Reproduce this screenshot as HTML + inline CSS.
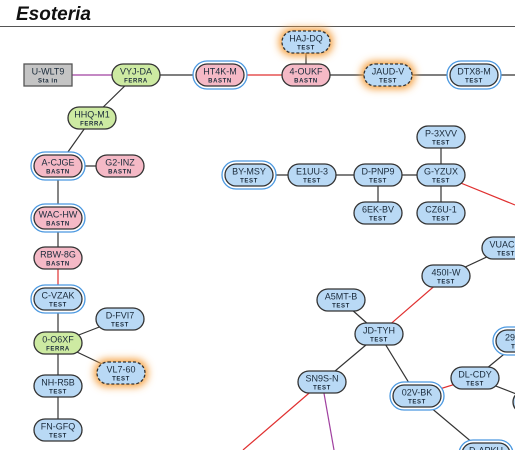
<!DOCTYPE html>
<html><head><meta charset="utf-8"><style>
html,body{margin:0;padding:0;background:#fff;width:515px;height:450px;overflow:hidden}
svg{display:block}
text{font-family:"Liberation Sans",Arial,sans-serif;fill:#1a2a3a}
</style></head><body>
<svg id="chart" width="515" height="450" viewBox="0 0 515 450">
<defs>
<filter id="glow" x="-50%" y="-80%" width="200%" height="260%"><feGaussianBlur stdDeviation="4"/></filter>
</defs>
<text x="16" y="20" font-size="19" font-weight="bold" font-style="italic" style="fill:#111">Esoteria</text>
<line x1="0" y1="26.5" x2="515" y2="26.5" stroke="#555" stroke-width="1"/>
<g id="edges"></g><g id="nodes"></g>
</svg>
<script>
const nodeNames=["U-WLT9","VYJ-DA","HT4K-M","4-OUKF","HAJ-DQ","JAUD-V","DTX8-M","HHQ-M1","A-CJGE","G2-INZ","WAC-HW","RBW-8G","C-VZAK","D-FVI7","0-O6XF","VL7-60","NH-R5B","FN-GFQ","BY-MSY","E1UU-3","D-PNP9","G-YZUX","P-3XVV","6EK-BV","CZ6U-1","VUAC-7","450I-W","A5MT-B","JD-TYH","SN9S-N","02V-BK","DL-CDY","29YX-1","EDGE-R","D-APKU"];
const nodeTypes=["Sta in","FERRA","BASTN","BASTN","TEST","TEST","TEST","FERRA","BASTN","BASTN","BASTN","BASTN","TEST","TEST","FERRA","TEST","TEST","TEST","TEST","TEST","TEST","TEST","TEST","TEST","TEST","TEST","TEST","TEST","TEST","TEST","TEST","TEST","TEST","TEST","TEST"];
const nodeX=[48,136,220,306,306,388,474,92,58,120,58,58,58,120,58,121,58,58,249,312,378,441,441,378,441,506,446,341,379,322,417,475,520,537,486];
const nodeY=[75,75,75,75,42,75,75,118,166,166,218,258,299,319,343,373,386,430,175,175,175,175,137,213,213,248,276,300,334,382,396,378,341,402,454];
const nodeRing=[0,0,1,0,0,0,1,0,1,0,1,0,1,0,0,0,0,0,1,0,0,0,0,0,0,0,0,0,0,0,1,0,1,0,1];
const nodeGlow=[0,0,0,0,1,1,0,0,0,0,0,0,0,0,0,1,0,0,0,0,0,0,0,0,0,0,0,0,0,0,0,0,0,0,0];
const edgeFrom=[0,1,2,3,3,5,6,1,7,8,8,10,11,12,14,14,14,16,18,19,20,21,21,20,21,26,26,28,28,28,30,29,29,31,31,30];
const edgeTo=[1,2,3,4,5,6,-1,7,8,9,10,11,12,14,13,15,16,17,19,20,21,22,24,23,-2,25,28,27,29,30,31,-3,-4,32,33,34];
const edgeColor=["#a040a0","#333","#e03030","#333","#333","#333","#333","#333","#333","#333","#333","#333","#e03030","#333","#333","#333","#333","#333","#333","#333","#333","#333","#333","#333","#e03030","#333","#e03030","#333","#333","#333","#e03030","#e03030","#a040a0","#333","#333","#333"];
const extX={"-1":515,"-2":515,"-3":243,"-4":334};
const extY={"-1":75,"-2":205,"-3":450,"-4":450};
const fills={"TEST":"#b9d9f5","BASTN":"#f5b9c6","FERRA":"#cdeaa2","Sta in":"#c4c4c4"};
const NS="http://www.w3.org/2000/svg";
const eg=document.getElementById('edges'),ng=document.getElementById('nodes');
function px(i){return i>=0?nodeX[i]:extX[String(i)];}
function py(i){return i>=0?nodeY[i]:extY[String(i)];}
edgeFrom.forEach((f,k)=>{const t=edgeTo[k];const l=document.createElementNS(NS,'line');


l.setAttribute('x1',px(f));l.setAttribute('y1',py(f));l.setAttribute('x2',px(t));l.setAttribute('y2',py(t));
l.setAttribute('stroke',edgeColor[k]);l.setAttribute('stroke-width','1.2');eg.appendChild(l);});
nodeNames.forEach((n,i)=>{const g=document.createElementNS(NS,'g');


const x=nodeX[i],y=nodeY[i],w=48,h=22,sq=nodeTypes[i]==='Sta in';
if(nodeGlow[i]){const r=document.createElementNS(NS,'rect');r.setAttribute('x',x-w/2-3);r.setAttribute('y',y-h/2-3);r.setAttribute('width',w+6);r.setAttribute('height',h+6);r.setAttribute('rx',13);r.setAttribute('fill','#f5a040');r.setAttribute('filter','url(#glow)');g.appendChild(r);}
if(nodeRing[i]){const r=document.createElementNS(NS,'rect');r.setAttribute('x',x-w/2-3);r.setAttribute('y',y-h/2-3);r.setAttribute('width',w+6);r.setAttribute('height',h+6);r.setAttribute('rx',14);r.setAttribute('fill','#fff');r.setAttribute('stroke','#4a98e0');r.setAttribute('stroke-width','1.3');g.appendChild(r);}
const r=document.createElementNS(NS,'rect');r.setAttribute('x',x-w/2);r.setAttribute('y',y-h/2);r.setAttribute('width',w);r.setAttribute('height',h);r.setAttribute('rx',sq?0:11);
r.setAttribute('fill',fills[nodeTypes[i]]);r.setAttribute('stroke',sq?'#555':'#333');r.setAttribute('stroke-width','1.3');
if(nodeGlow[i])r.setAttribute('stroke-dasharray','3,2');g.appendChild(r);
const t1=document.createElementNS(NS,'text');t1.setAttribute('x',x);t1.setAttribute('y',y-0.5);t1.setAttribute('text-anchor','middle');t1.setAttribute('font-size','9');t1.textContent=n;g.appendChild(t1);
const t2=document.createElementNS(NS,'text');t2.setAttribute('x',x);t2.setAttribute('y',y+7.5);t2.setAttribute('text-anchor','middle');t2.setAttribute('font-size','6');t2.setAttribute('font-weight','bold');t2.setAttribute('letter-spacing','0.6');t2.textContent=nodeTypes[i];g.appendChild(t2);
ng.appendChild(g);});
</script>
</body></html>
